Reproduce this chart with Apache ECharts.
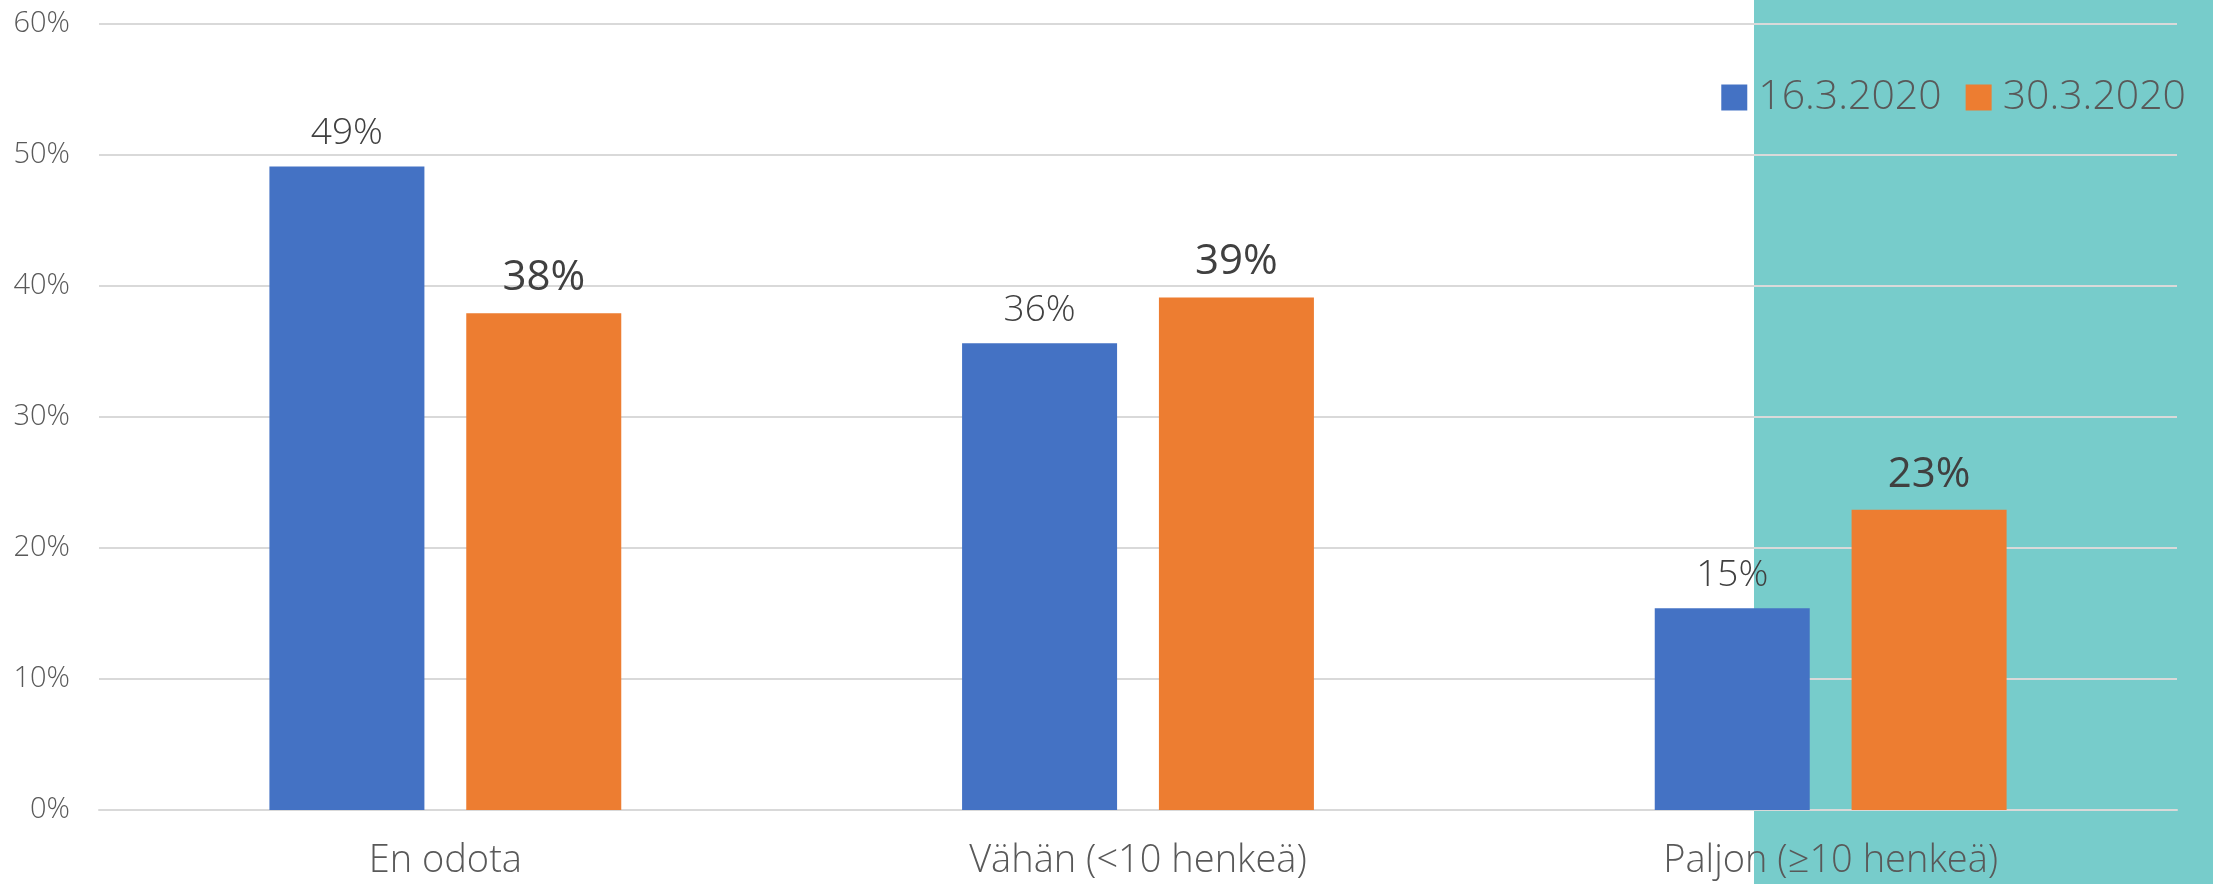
<!DOCTYPE html>
<html>
<head>
<meta charset="utf-8">
<script src="https://cdn.jsdelivr.net/npm/echarts@6/dist/echarts.min.js"></script>
<style>
  html, body { margin: 0; padding: 0; background: #fff; }
  #chart { width: 2213px; height: 884px; }
</style>
</head>
<body>
<div id="chart"></div>
<script>
const categories = ['En odota', 'Vähän (<10 henkeä)', 'Paljon (≥10 henkeä)']
const seriesNames = ['16.3.2020', '30.3.2020']
const march16 = [49.1, 35.6, 15.4]
const march30 = [37.9, 39.1, 22.9]
const yTicks = [0, 10, 20, 30, 40, 50, 60]

const FONT = "'Open Sans', sans-serif"
const chart = echarts.init(document.getElementById('chart'))

function barLabel(big) {
  return {
    show: true,
    position: 'top',
    distance: 14,
    fontFamily: FONT,
    fontSize: big ? 42 : 37,
    fontWeight: big ? 400 : 300,
    color: '#404040',
    formatter: p => Math.round(p.value) + '%'
  }
}

chart.setOption({
  animation: false,
  graphic: {
    z: -10,
    elements: [{
      type: 'rect',
      left: 1754,
      top: 0,
      z: -10,
      shape: { width: 459, height: 884 },
      style: { fill: '#77cccb' },
      silent: true
    }]
  },
  legend: {
    data: seriesNames,
    right: 22,
    top: 72,
    itemWidth: 26,
    itemHeight: 26,
    itemGap: 24,
    icon: 'rect',
    textStyle: { fontFamily: FONT, fontSize: 41, fontWeight: 300, color: '#595959', padding: [0, 0, 0, 6] }
  },
  grid: { left: 99, right: 36, top: 23.5, bottom: 74 },
  xAxis: {
    type: 'category',
    data: categories,
    axisTick: { show: false },
    axisLine: { lineStyle: { color: '#d9d9d9', width: 2 } },
    axisLabel: { fontFamily: FONT, fontSize: 38, fontWeight: 300, color: '#595959', margin: 32 }
  },
  yAxis: {
    type: 'value',
    min: yTicks[0],
    max: yTicks[yTicks.length - 1],
    interval: 10,
    axisLine: { show: false },
    axisTick: { show: false },
    splitLine: { lineStyle: { color: '#d9d9d9', width: 2 } },
    axisLabel: { fontFamily: FONT, fontSize: 29, fontWeight: 300, color: '#595959', margin: 29, formatter: '{value}%' }
  },
  series: [
    {
      name: seriesNames[0],
      type: 'bar',
      data: march16,
      barWidth: 155,
      barGap: '27%',
      itemStyle: { color: '#4472c4' },
      label: barLabel(false)
    },
    {
      name: seriesNames[1],
      type: 'bar',
      data: march30,
      barWidth: 155,
      itemStyle: { color: '#ed7d31' },
      label: barLabel(true)
    }
  ]
})
</script>
</body>
</html>
